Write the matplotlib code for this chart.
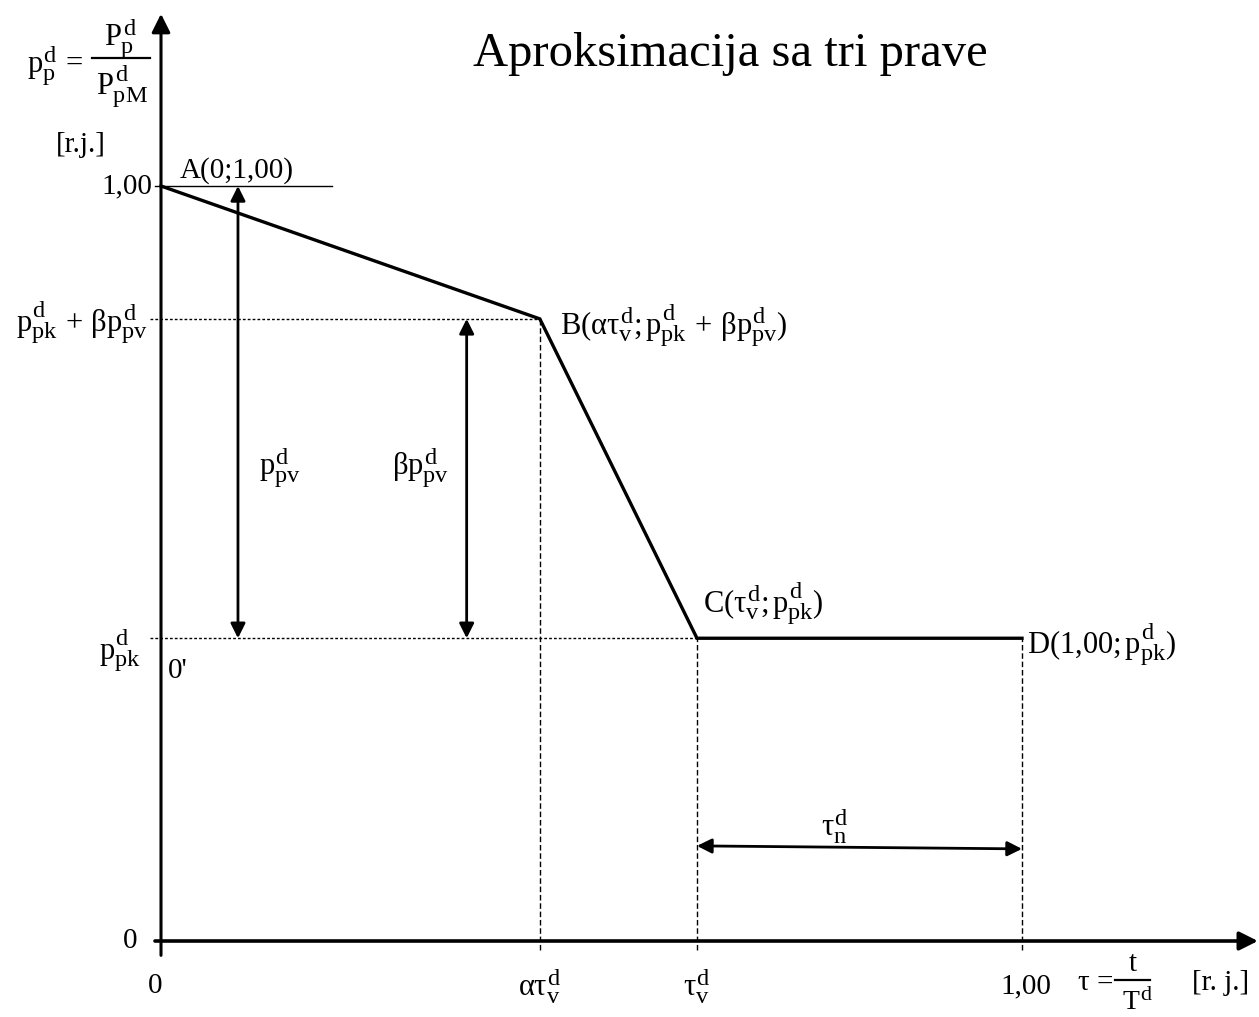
import matplotlib
matplotlib.use("Agg")
import matplotlib.pyplot as plt
import matplotlib._mathtext as _mt

_mt.SHRINK_FACTOR = 0.8

plt.rcParams['font.family'] = ['Liberation Serif', 'DejaVu Serif']
plt.rcParams['mathtext.fontset'] = 'custom'
plt.rcParams['mathtext.rm'] = 'Liberation Serif'
plt.rcParams['mathtext.it'] = 'Liberation Serif'
plt.rcParams['mathtext.bf'] = 'Liberation Serif:bold'

# ---- data ----
point_names = ["A", "B", "C", "D"]
tau_points = [0.0, 0.44, 0.6225, 1.0]
p_points = [1.0, 0.824, 0.401, 0.401]
x_tick_labels = ["0", r"$\alpha\tau_{v}^{d}$", r"$\tau_{v}^{d}$", "1,00"]
y_tick_labels = ["0", "1,00"]
y_level_labels = [r"$p_{pk}^{d}\,+\,\beta p_{pv}^{d}$", r"$p_{pk}^{d}$"]
point_labels = ["A(0;1,00)",
                r"B($\alpha\tau_{v}^{d}$;$\,p_{pk}^{d}\,+\,\beta p_{pv}^{d}$)",
                r"C($\tau_{v}^{d}$;$\,p_{pk}^{d}$)",
                r"D(1,00;$\,p_{pk}^{d}$)"]
title = "Aproksimacija sa tri prave"

W, H = 1259, 1017
fig = plt.figure(figsize=(W / 100, H / 100), dpi=100)
ax = fig.add_axes([0, 0, 1, 1])
ax.set_xlim(-161 / 861, (W - 161) / 861)
ax.set_ylim(-(H - 941) / 755, 941 / 755)
ax.axis('off')

fs = 21
fm = 22
k = 'black'

# axes with arrows
ax.annotate("", xy=(0, 1.228), xytext=(0, -0.019),
            arrowprops=dict(arrowstyle='-|>', lw=2.2, color=k, mutation_scale=28,
                            shrinkA=0, shrinkB=0))
ax.annotate("", xy=(1.274, 0), xytext=(-0.007, 0),
            arrowprops=dict(arrowstyle='-|>', lw=2.6, color=k, mutation_scale=28,
                            shrinkA=0, shrinkB=0))

# reference line at 1.00
ax.plot([-0.007, 0.199], [1.0, 1.0], color=k, lw=1.0)

# dotted horizontal guides
ax.plot([-0.013, tau_points[1]], [p_points[1], p_points[1]], color=k, lw=1.0, ls=(0, (2, 1.5)))
ax.plot([-0.013, tau_points[2]], [p_points[2], p_points[2]], color=k, lw=1.0, ls=(0, (2, 1.5)))

# dashed vertical guides
for i in (1, 2, 3):
    ax.plot([tau_points[i], tau_points[i]], [-0.012, p_points[i]], color=k, lw=1.0,
            ls=(0, (4, 2)))

# main curve
ax.plot(tau_points, p_points, color=k, lw=2.4, solid_joinstyle='miter')

# double arrows
darrow = dict(arrowstyle='<|-|>', lw=2.0, color=k, mutation_scale=22, shrinkA=0, shrinkB=0)
ax.annotate("", xy=(0.0894, p_points[0]), xytext=(0.0894, p_points[2]), arrowprops=darrow)
ax.annotate("", xy=(0.355, p_points[1]), xytext=(0.355, p_points[2]), arrowprops=darrow)
ax.annotate("", xy=(tau_points[2], 0.126), xytext=(tau_points[3], 0.122), arrowprops=darrow)

# arrow labels
ax.text(0.138, 0.628, r"$p_{pv}^{d}$", fontsize=fm, ha='center', va='center')
ax.text(0.302, 0.628, r"$\beta p_{pv}^{d}$", fontsize=fm, ha='center', va='center')
ax.text(0.783, 0.152, r"$\tau_{n}^{d}$", fontsize=fm, ha='center', va='center')

# y tick labels
ax.text(-0.027, 0.0, y_tick_labels[0], fontsize=fs, ha='right', va='center')
ax.text(-0.01, 1.0, y_tick_labels[1], fontsize=fs, ha='right', va='center')
ax.text(-0.015, p_points[1] - 0.004, y_level_labels[0], fontsize=fm, ha='right', va='center')
ax.text(-0.024, p_points[2] - 0.016, y_level_labels[1], fontsize=fm, ha='right', va='center')
ax.text(0.008, 0.357, "0'", fontsize=fs, ha='left', va='center')

# x tick labels
x_lab_pos = [-0.007, tau_points[1], tau_points[2], 1.005]
for xp, lab in zip(x_lab_pos, x_tick_labels):
    ax.text(xp, -0.06, lab, fontsize=fm if '$' in lab else fs, ha='center', va='center')

# y axis title: p_p^d = P_p^d / P_pM^d (built as a stacked fraction)
ax.text(-0.123, 1.161, r"$p_{p}^{d}\,=$", fontsize=fm, ha='center', va='center')
ax.plot([-0.080, -0.013], [1.1695, 1.1695], color=k, lw=1.6)
ax.text(-0.047, 1.196, r"$P_{p}^{d}$", fontsize=fm, ha='center', va='center')
ax.text(-0.045, 1.133, r"$P_{pM}^{d}$", fontsize=fm, ha='center', va='center')
ax.text(-0.122, 1.054, "[r.j.]", fontsize=fs, ha='left', va='center')

# x axis title: tau = t / T^d
ax.text(1.065, -0.056, "τ =", fontsize=fs, ha='left', va='center')
ax.plot([1.108, 1.149], [-0.051, -0.051], color=k, lw=1.6)
ax.text(1.129, -0.030, "t", fontsize=fs, ha='center', va='center')
ax.text(1.135, -0.080, r"$T^{d}$", fontsize=20, ha='center', va='center')
ax.text(1.197, -0.056, "[r. j.]", fontsize=fs, ha='left', va='center')

# point labels
ax.text(0.022, 1.021, point_labels[0], fontsize=fs, ha='left', va='center')
ax.text(0.463, 0.816, point_labels[1], fontsize=fm, ha='left', va='center')
ax.text(0.629, 0.448, point_labels[2], fontsize=fm, ha='left', va='center')
ax.text(1.006, 0.394, point_labels[3], fontsize=fm, ha='left', va='center')

# title
ax.text(0.661, 1.175, title, fontsize=35, ha='center', va='center')

fig.savefig("out.png", dpi=100)
